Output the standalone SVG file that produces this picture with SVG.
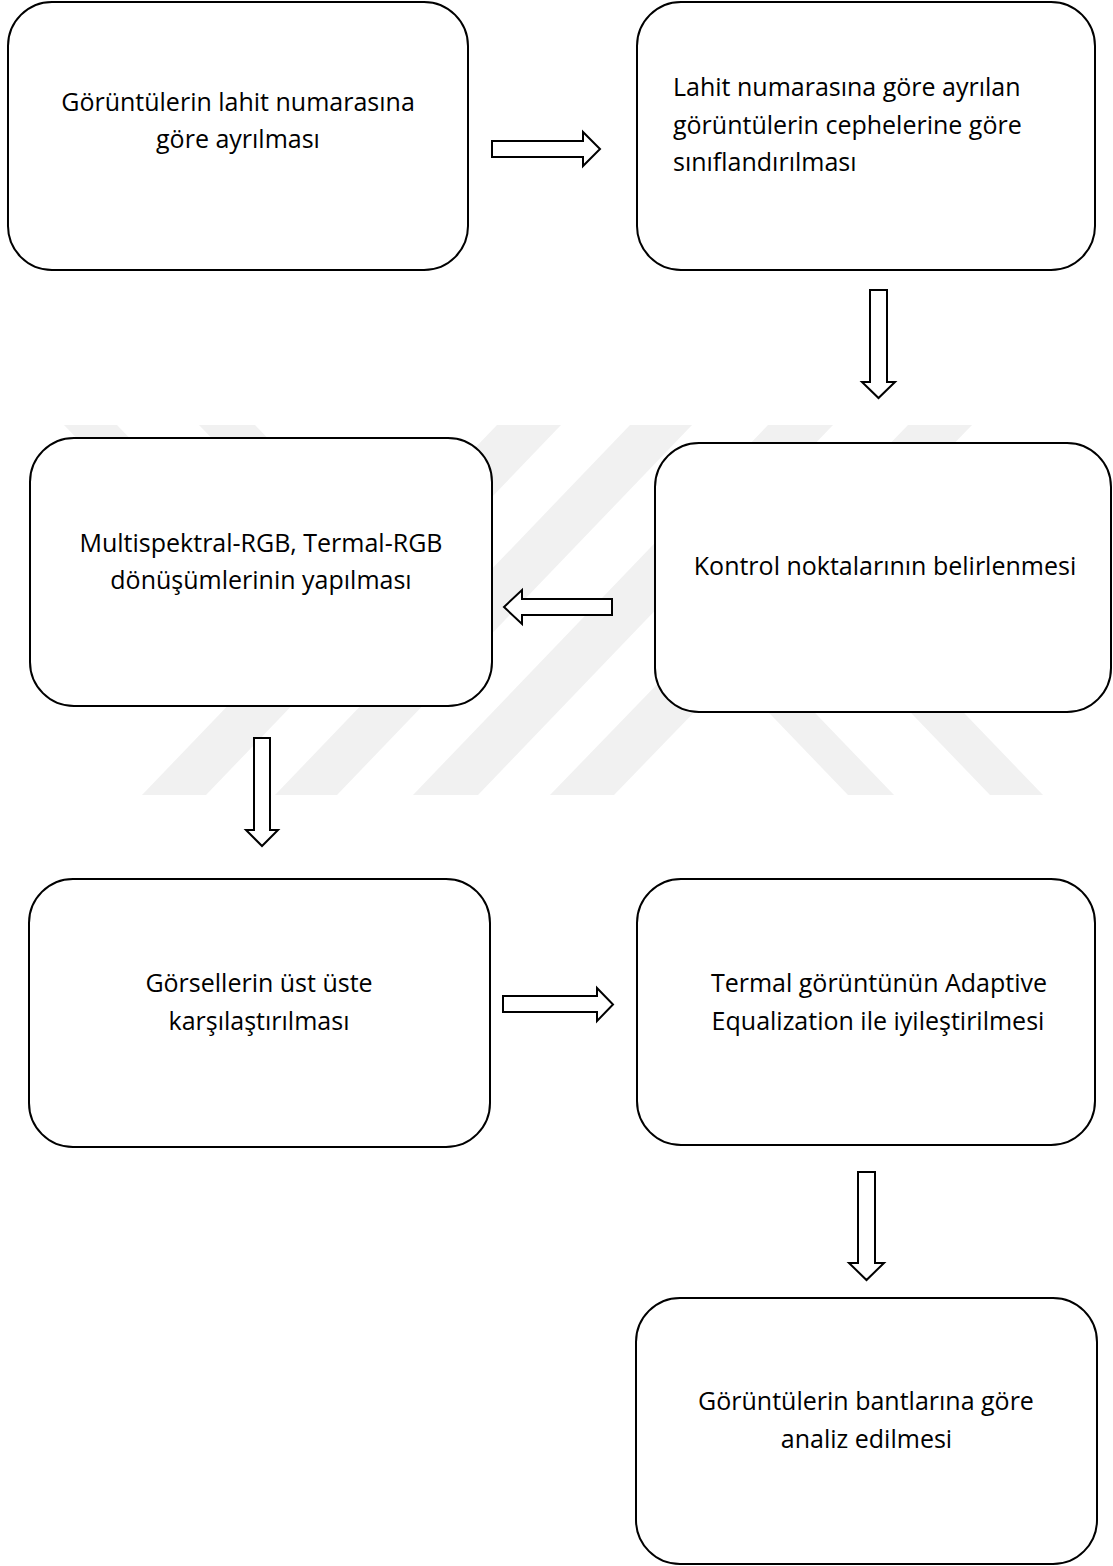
<svg xmlns="http://www.w3.org/2000/svg" width="1113" height="1566" viewBox="0 0 1113 1566">
<style>
.box{fill:#ffffff;stroke:#000000;stroke-width:2}
.arr{fill:#ffffff;stroke:#000000;stroke-width:2;stroke-linejoin:miter}
.wm{fill:#f1f1f1}
text{font-family:"Open Sans","Noto Sans",sans-serif;font-size:25px;fill:#000000}
.c{text-anchor:middle}
</style>
<rect width="1113" height="1566" fill="#ffffff"/>
<g id="watermark">
<polygon class="wm" points="64,425 117,425 295,610 242,610"/>
<polygon class="wm" points="199,425 255,425 433,610 377,610"/>
<polygon class="wm" points="497,425 561,425 206,795 142,795"/>
<polygon class="wm" points="630,425 692,425 337,795 275,795"/>
<polygon class="wm" points="768,425 833,425 478,795 413,795"/>
<polygon class="wm" points="908,425 972,425 614,795 550,795"/>
<polygon class="wm" points="670,610 716,610 894,795 848,795"/>
<polygon class="wm" points="812,610 865,610 1043,795 990,795"/>
</g>
<g id="connectors">
<path class="arr" d="M492,141 H583 V132 L600,149 L583,166 V157 H492 Z"/>
<path class="arr" d="M870,290 H887 V382 H895 L878.5,398 L862,382 H870 Z"/>
<path class="arr" d="M612,599 H522 V590 L504,607 L522,624 V615 H612 Z"/>
<path class="arr" d="M254,738 H270 V830 H278 L262,846 L246,830 H254 Z"/>
<path class="arr" d="M503,996 H597 V988 L613,1004.5 L597,1021 V1012 H503 Z"/>
<path class="arr" d="M858,1172 H875 V1263 H884 L866.5,1280 L849,1263 H858 Z"/>
</g>
<g id="node1">
<rect class="box" x="8" y="2" width="460" height="268" rx="44" ry="44"/>
<text class="c" x="238" y="111">Görüntülerin lahit numarasına</text>
<text class="c" x="238" y="148">göre ayrılması</text>
</g>
<g id="node2">
<rect class="box" x="637" y="2" width="458" height="268" rx="44" ry="44"/>
<text x="673" y="96">Lahit numarasına göre ayrılan</text>
<text x="673" y="134">görüntülerin cephelerine göre</text>
<text x="673" y="171">sınıflandırılması</text>
</g>
<g id="node3">
<rect class="box" x="30" y="438" width="462" height="268" rx="44" ry="44"/>
<text class="c" x="261" y="552">Multispektral-RGB, Termal-RGB</text>
<text class="c" x="261" y="589">dönüşümlerinin yapılması</text>
</g>
<g id="node4">
<rect class="box" x="655" y="443" width="456" height="269" rx="44" ry="44"/>
<text class="c" x="885" y="575">Kontrol noktalarının belirlenmesi</text>
</g>
<g id="node5">
<rect class="box" x="29" y="879" width="461" height="268" rx="44" ry="44"/>
<text class="c" x="259" y="992">Görsellerin üst üste</text>
<text class="c" x="259" y="1030">karşılaştırılması</text>
</g>
<g id="node6">
<rect class="box" x="637" y="879" width="458" height="266" rx="44" ry="44"/>
<text class="c" x="879" y="992">Termal görüntünün Adaptive</text>
<text class="c" x="878" y="1030">Equalization ile iyileştirilmesi</text>
</g>
<g id="node7">
<rect class="box" x="636" y="1298" width="461" height="266" rx="44" ry="44"/>
<text class="c" x="866" y="1410">Görüntülerin bantlarına göre</text>
<text class="c" x="866.5" y="1448">analiz edilmesi</text>
</g>
</svg>
